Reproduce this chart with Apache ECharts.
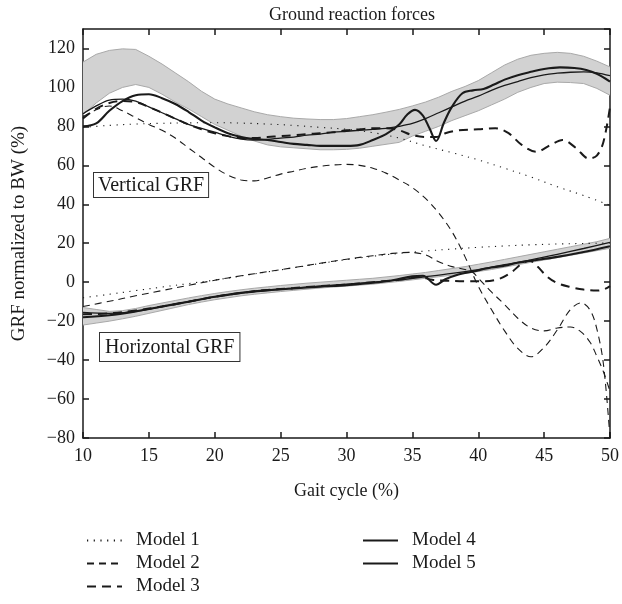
<!DOCTYPE html>
<html>
<head>
<meta charset="utf-8">
<script src="https://cdn.jsdelivr.net/npm/echarts@6/dist/echarts.min.js"></script>
<style>html,body{margin:0;padding:0;background:#fff}#c{width:622px;height:604px}</style>
</head>
<body>
<div id="c"></div>
<script>
// ---- data ----
const xBand = [10,11,12,13,14,15,16,17,18,19,20,21,22,23,24,25,26,27,28,29,30,31,32,33,34,35,36,37,38,39,40,41,42,43,44,45,46,47,48,49,50];
const bandVLow = [86,92,97,100,101.5,100,96.5,92.5,89,85,81,78,75,72.5,70.5,69.5,69,68.5,68,68,68.2,68.8,69.8,70.8,71.8,75,77.5,80,83,85.5,88,91,94,97.5,100,102,102.7,102.5,102,99.5,96];
const bandVHigh = [113,117,119,119.8,119.5,116,112,107.5,103,98,94,91.5,89.5,87.5,86,85,84.2,83.8,83.5,83.5,84,85,86,87.3,88.7,90.5,92.5,95,98,100.5,103.5,107.5,111.5,114.5,116.5,117.5,118,117.5,116,113.5,110.5];
const bandHLow = [-22,-21,-20,-18.8,-17.5,-16,-14.5,-13,-11.5,-10.2,-9,-8,-7,-6.2,-5.5,-4.8,-4.2,-3.6,-3,-2.5,-2,-1.5,-1,-0.3,0.4,1.2,2,2.8,3.6,4.5,5.5,6.5,7.7,9,10.2,11.4,12.6,13.8,15,16.2,17.4];
const bandHHigh = [-13,-14,-15,-14.6,-13.5,-12,-10.7,-9.4,-8.1,-6.9,-5.8,-4.8,-3.9,-3.1,-2.4,-1.7,-1.1,-0.5,0,0.5,1,1.5,2,2.7,3.4,4.2,5,6,7,8,9.2,10.4,11.7,13,14.3,15.6,16.9,18.2,19.5,20.8,22.5];

const model1V = [[10,79.5],[12,80.5],[14,81.2],[16,81.6],[18,81.8],[20,81.9],[22,81.7],[24,81.2],[26,80.5],[28,79.5],[30,78.5],[32,76.8],[34,74],[36,70],[38,66.5],[40,62.8],[42,58.5],[44,54],[46,49],[48,44.5],[50,39.5]];
const model1H = [[10,-8],[12,-6.2],[14,-4.3],[16,-2.5],[18,-0.7],[20,1.1],[22,3.2],[24,5.3],[26,7.4],[28,9.6],[30,11.6],[32,13.3],[34,14.8],[36,16],[38,17],[40,17.9],[42,18.6],[44,19.2],[46,19.6],[48,19.9],[50,20.1]];
const model2V = [[10,85],[11,88.5],[12,90.5],[13,88],[14,84.5],[15,81],[16,78],[17,74],[18,69],[19,64],[20,59],[21,55],[22,52.5],[23,52],[24,53.5],[25,55.5],[26,57],[27,58.5],[28,59.5],[29,60.2],[30,60.5],[31,60],[32,58.5],[33,56],[34,52.5],[35,48.5],[36,43],[37,35.5],[38,26],[39,13],[40,-2],[41,-14],[42,-25],[43,-34],[44,-38.3],[45,-33.5],[46,-24.5],[47,-14],[47.8,-10.6],[48.5,-14.5],[49,-24],[49.5,-42],[50,-80]];
const model2H = [[10,-12.5],[12,-9.8],[14,-7],[16,-4.3],[18,-1.6],[20,1],[22,3.3],[24,5.4],[26,7.5],[28,9.7],[30,11.8],[32,13.6],[33.5,14.8],[34.8,15.3],[36,14],[37,10.5],[38,8],[39,6.5],[39.6,5],[40,2.1],[41,-5],[42,-11.5],[43,-18.5],[44,-23.5],[45,-25],[46,-23.5],[47,-23],[47.8,-25.5],[48.5,-31],[49,-38],[49.5,-46],[50,-56]];
const model3V = [[10,84],[11,89],[12,92],[13,93],[14,92.5],[15,90],[16,87],[17,84],[18,81],[19,78.5],[20,76.5],[21,75],[22,74],[23,74],[24,74.5],[25,75],[26,75.5],[27,76],[28,76.5],[29,77],[30,78],[31,78.5],[32,79],[33,79],[34,78],[35,75.5],[36,74.5],[36.8,74.5],[37.5,76.5],[38.5,78],[40,78.5],[41.3,79],[42.3,76.5],[43.3,70.5],[44.4,67],[45.5,70.5],[46.4,73],[47.4,69],[48.4,63.5],[49,65],[49.5,72],[50,90]];
const model3H = [[10,-16.5],[12,-16],[14,-14.5],[16,-12.5],[18,-10],[20,-7.5],[22,-5.5],[24,-4],[26,-3],[28,-2],[30,-1.2],[32,0],[34,1.2],[35.5,2.8],[36.5,1.2],[37.5,0.8],[39,0.5],[40.5,0.5],[41.5,1.5],[42.5,5],[43.3,9.5],[43.9,11],[44.5,8],[45.2,3],[46,-0.5],[47,-2.5],[48,-3.8],[49,-4.3],[49.6,-3.5],[50,-2]];
const model4V = [[10,86.5],[11,90.5],[12,93.5],[13,94],[14,93],[15,90],[16,87],[17,84],[18,81],[19,79],[20,77],[21,75],[22,73.5],[23,73],[24,73.3],[25,74],[26,74.5],[27,75.5],[28,76],[29,77],[30,77.5],[31,78],[32,78.5],[33,79],[34,80],[35,81.5],[36,84],[37,87],[38,90],[39,93],[40,95.5],[41,98.5],[42,101],[43,103],[44,105],[45,106.5],[46,107.3],[47,107.8],[48,108],[49,107.5],[50,106]];
const model4H = [[10,-15.5],[12,-16],[14,-15],[16,-12.5],[18,-10],[20,-7.5],[22,-5.5],[24,-4],[26,-3],[28,-2],[30,-1],[32,0],[34,1.2],[36,2.8],[38,4.5],[40,6.5],[42,9],[44,11.5],[46,14.3],[48,17.3],[50,20.5]];
const model5V = [[10,80],[11,81.5],[12,88],[13,93],[14,96],[15,96.5],[16,94.5],[17,91.5],[18,87.5],[19,83],[20,79.5],[21,76.5],[22,74.5],[23,73.5],[24,73],[25,72],[26,71],[27,70.5],[28,70],[29,70],[30,70],[31,70.5],[32,73],[33,76],[34,81],[34.6,86],[35.2,88.5],[35.8,85.5],[36.3,79],[36.8,72.5],[37.4,82],[38,90],[38.8,97],[39.6,98.5],[40.4,99.2],[41.2,101.5],[42,104],[43,106.3],[44,108],[45,109.5],[46.2,110.3],[47.3,110],[48.2,109],[49,107],[50,103]];
const model5H = [[10,-18],[12,-17],[14,-15],[16,-12.5],[18,-10],[20,-7.5],[22,-5.5],[24,-4.2],[26,-3.2],[28,-2.3],[30,-1.5],[32,-0.3],[33.5,1],[35,3],[35.8,3.3],[36.8,-1.3],[37.5,1.5],[38.5,4],[39.6,5.5],[41,7.5],[42,8.5],[43,10],[44,11],[46,13],[48,15.5],[50,18.5]];

const xTicks = {min: 10, max: 50, interval: 5};
const yTicks = {min: -80, max: 130, interval: 20};

// ---- chart ----
const FONT = 'Liberation Serif';
const ink = '#1a1a1a';
const chart = echarts.init(document.getElementById('c'), null, {renderer: 'canvas'});

function pairs(xs, ys) { return xs.map((x, i) => [x, ys[i]]); }

const bandFill = '#d2d2d2';
const bandEdge = '#a9a9a9';

function bandSeries(lo, hi) {
  return [
    {type: 'custom', silent: true, z: 1, clip: true,
     data: [[xBand[0], lo[0]]],
     encode: {x: 0, y: 1},
     renderItem: function (params, api) {
       const top = xBand.map((x, i) => api.coord([x, hi[i]]));
       const bot = xBand.map((x, i) => api.coord([x, lo[i]])).reverse();
       return {type: 'polygon', shape: {points: top.concat(bot)},
               style: {fill: bandFill, stroke: null}};
     }},
    {type: 'line', data: pairs(xBand, lo), symbol: 'none', silent: true,
     lineStyle: {color: bandEdge, width: 1}, z: 2},
    {type: 'line', data: pairs(xBand, hi), symbol: 'none', silent: true,
     lineStyle: {color: bandEdge, width: 1}, z: 2}
  ];
}

function modelSeries(name, data, style) {
  return {name, type: 'line', data, symbol: 'none', smooth: 0.35, z: 3,
    lineStyle: Object.assign({color: ink}, style), itemStyle: {color: ink}};
}

const s1 = {width: 1.1, type: [1.2, 5.5]};
const s2 = {width: 1.1, type: [7, 5]};
const s3 = {width: 2, type: [9, 6]};
const s4 = {width: 1.3, type: 'solid'};
const s5 = {width: 2.1, type: 'solid'};

const series = [].concat(
  bandSeries(bandVLow, bandVHigh),
  bandSeries(bandHLow, bandHHigh),
  [
    modelSeries('Model 1', model1V, s1),
    modelSeries('Model 1', model1H, s1),
    modelSeries('Model 2', model2V, s2),
    modelSeries('Model 2', model2H, s2),
    modelSeries('Model 3', model3V, s3),
    modelSeries('Model 3', model3H, s3),
    modelSeries('Model 4', model4V, s4),
    modelSeries('Model 4', model4H, s4),
    modelSeries('Model 5', model5V, s5),
    modelSeries('Model 5', model5H, s5)
  ]
);

const axisLineStyle = {color: ink, width: 1.5};
const tickStyle = {inside: true, length: 6, lineStyle: {color: ink, width: 1.5}};
const labelStyle = {fontFamily: FONT, fontSize: 18, color: ink};
const minus = v => String(v).replace('-', '\u2212');

const legendText = {fontFamily: FONT, fontSize: 19, color: ink, lineHeight: 19, padding: [0, 0, 0, 9]};
const legendCommon = {orient: 'vertical', top: 531, padding: 0, itemWidth: 35, itemHeight: 14,
  itemGap: 4, textStyle: legendText, selectedMode: false, itemStyle: {opacity: 0}};

chart.setOption({
  animation: false,
  backgroundColor: '#fff',
  textStyle: {fontFamily: FONT},
  title: {text: 'Ground reaction forces', left: 347, textAlign: 'center', top: 1,
    textStyle: {fontFamily: FONT, fontSize: 18, fontWeight: 'normal', color: ink}},
  grid: {left: 83, right: 11, top: 29, bottom: 166, containLabel: false},
  legend: [
    Object.assign({data: ['Model 1', 'Model 2', 'Model 3'], left: 86}, legendCommon),
    Object.assign({data: [{name: 'Model 4', lineStyle: {width: 2}}, {name: 'Model 5', lineStyle: {width: 2}}], left: 362}, legendCommon)
  ],
  xAxis: [
    {type: 'value', min: xTicks.min, max: xTicks.max, interval: xTicks.interval, position: 'bottom',
     name: 'Gait cycle (%)', nameLocation: 'middle', nameGap: 44, nameTextStyle: {fontFamily: FONT, fontSize: 18, color: ink},
     axisLine: {show: true, onZero: false, lineStyle: axisLineStyle}, axisTick: tickStyle,
     axisLabel: Object.assign({margin: 9}, labelStyle), splitLine: {show: false}},
    {type: 'value', min: xTicks.min, max: xTicks.max, interval: xTicks.interval, position: 'top',
     axisLine: {show: true, onZero: false, lineStyle: axisLineStyle}, axisTick: tickStyle,
     axisLabel: {show: false}, splitLine: {show: false}}
  ],
  yAxis: [
    {type: 'value', min: yTicks.min, max: yTicks.max, interval: yTicks.interval, position: 'left',
     name: 'GRF normalized to BW (%)', nameLocation: 'middle', nameGap: 54, nameRotate: 90,
     nameTextStyle: {fontFamily: FONT, fontSize: 19, color: ink},
     axisLine: {show: true, onZero: false, lineStyle: axisLineStyle}, axisTick: tickStyle,
     axisLabel: Object.assign({margin: 8, showMaxLabel: false, formatter: minus}, labelStyle), splitLine: {show: false}},
    {type: 'value', min: yTicks.min, max: yTicks.max, interval: yTicks.interval, position: 'right',
     axisLine: {show: true, onZero: false, lineStyle: axisLineStyle}, axisTick: tickStyle,
     axisLabel: {show: false}, splitLine: {show: false}}
  ],
  graphic: [
    {type: 'text', left: 93, top: 172, z: 10,
     style: {text: 'Vertical GRF', font: '20px "Liberation Serif"', fill: ink,
       backgroundColor: '#fff', borderColor: '#333', borderWidth: 1, padding: [3, 4, 1, 4]}},
    {type: 'text', left: 99, top: 332, z: 10,
     style: {text: 'Horizontal GRF', font: '20px "Liberation Serif"', fill: ink,
       backgroundColor: '#fff', borderColor: '#333', borderWidth: 1, padding: [5, 5, 3, 5]}}
  ],
  series: series
});
</script>
</body>
</html>
